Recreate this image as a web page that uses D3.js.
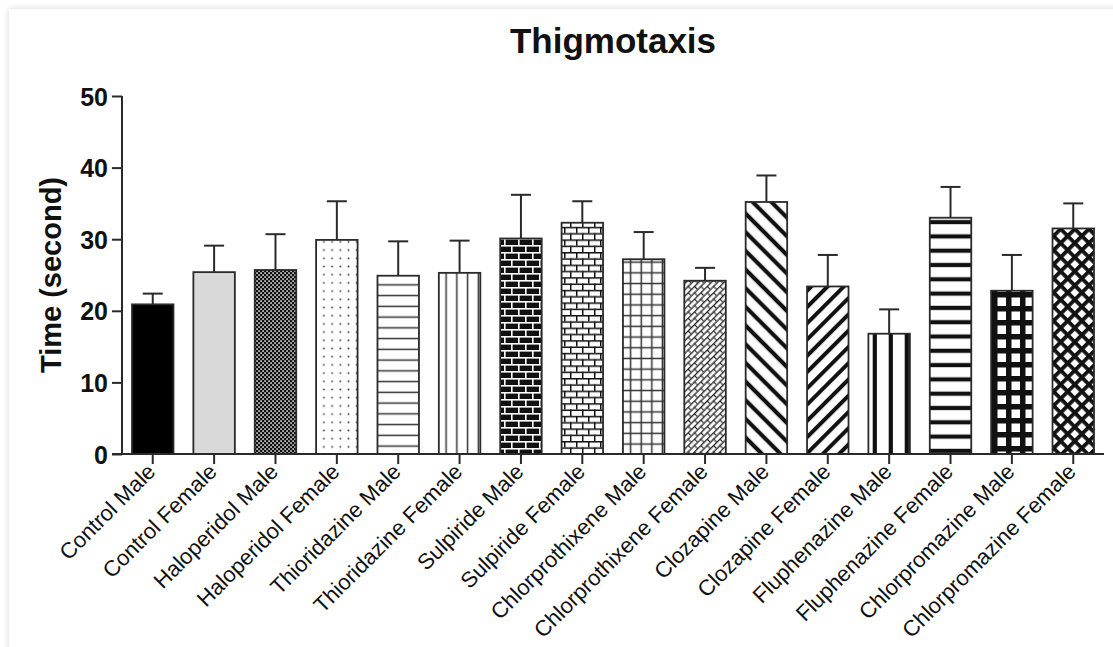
<!DOCTYPE html>
<html>
<head>
<meta charset="utf-8">
<script src="https://cdn.jsdelivr.net/npm/d3@7"></script>
<style>
  html, body { margin: 0; padding: 0; background: #fff; overflow: hidden; }
  body { width: 1113px; height: 647px; position: relative; }
  .card { position: absolute; left: 9px; top: 9px; width: 1300px; height: 900px;
          background: #fff; box-shadow: 0 0 7px rgba(0,0,0,0.16); }
  svg { position: absolute; left: 0; top: 0; }
  text { font-family: "Liberation Sans", Arial, Helvetica, sans-serif; fill: #111; }
</style>
</head>
<body>
<div class="card"></div>
<svg id="chart" width="1113" height="647"></svg>
<script>
// Thigmotaxis time per treatment group (mean and upper error, seconds)
const groups = [
  "Control Male", "Control Female", "Haloperidol Male", "Haloperidol Female",
  "Thioridazine Male", "Thioridazine Female", "Sulpiride Male", "Sulpiride Female",
  "Chlorprothixene Male", "Chlorprothixene Female", "Clozapine Male", "Clozapine Female",
  "Fluphenazine Male", "Fluphenazine Female", "Chlorpromazine Male", "Chlorpromazine Female"
];
const meanTime = [20.9, 25.4, 25.7, 29.9, 24.9, 25.3, 30.1, 32.3, 27.2, 24.2, 35.2, 23.4, 16.8, 33.0, 22.8, 31.5];
const errTime  = [1.5, 3.7, 5.0, 5.4, 4.8, 4.5, 6.1, 3.0, 3.8, 1.8, 3.7, 4.4, 3.4, 4.3, 5.0, 3.5];
const yTicks = [0, 10, 20, 30, 40, 50];

const chartTitle = "Thigmotaxis";
const yTitle = "Time (second)";

// Fill style for each group, in the same order as the groups
const fillKeys = [
  "solid", "grey", "checker", "dots", "hlines", "vlines", "brickDark", "brickLight",
  "grid", "diagBrick", "diagDown", "diagUp", "vthick", "hthick", "gridThick", "crossThick"
];

const svg = d3.select("#chart");
const ink = "#111";
const edge = "#2a2a2a";

const x = d3.scaleBand().domain(groups).range([122, 1104]).paddingInner(0.324).paddingOuter(0.163);
const y = d3.scaleLinear().domain([0, 50]).range([454, 96]);

// ---- hatch patterns ----
const defs = svg.append("defs");
function pat(id, w, h, transform) {
  const p = defs.append("pattern").attr("id", id).attr("patternUnits", "userSpaceOnUse")
    .attr("width", w).attr("height", h);
  if (transform) p.attr("patternTransform", transform);
  return p;
}
function rect(p, x0, y0, w, h, c) {
  p.append("rect").attr("x", x0).attr("y", y0).attr("width", w).attr("height", h).attr("fill", c);
}

// fine dark checker with white specks
let p = pat("checker", 4, 4);
rect(p, 0, 0, 4, 4, ink);
rect(p, 0.3, 0.3, 1.5, 1.5, "#fff");
rect(p, 2.3, 2.3, 1.5, 1.5, "#fff");

// sparse dots
p = pat("dots", 8.2, 8.2);
rect(p, 0, 0, 8.2, 8.2, "#fff");
rect(p, 3.3, 3.3, 1.6, 1.6, "#333");

// thin horizontal lines
p = pat("hlines", 20, 10.75);
rect(p, 0, 0, 20, 10.75, "#fff");
rect(p, 0, 4.6, 20, 1.5, "#333");

// thin vertical lines
p = pat("vlines", 10.75, 20);
rect(p, 0, 0, 10.75, 20, "#fff");
rect(p, 4.6, 0, 1.5, 20, "#333");

// dark bricks with white mortar
p = pat("brickDark", 14, 14);
rect(p, 0, 0, 14, 14, ink);
rect(p, 0, 0, 14, 1.6, "#fff");
rect(p, 0, 7, 14, 1.6, "#fff");
rect(p, 0, 0, 1.6, 7, "#fff");
rect(p, 7, 7, 1.6, 7, "#fff");

// white bricks with dark mortar
p = pat("brickLight", 12, 12.6);
rect(p, 0, 0, 12, 12.6, "#fff");
rect(p, 0, 0, 12, 1.5, ink);
rect(p, 0, 6.3, 12, 1.5, ink);
rect(p, 0, 0, 1.5, 6.3, ink);
rect(p, 6, 6.3, 1.5, 6.3, ink);

// thin square grid
p = pat("grid", 10.6, 10.7);
rect(p, 0, 0, 10.6, 10.7, "#fff");
rect(p, 0, 4.6, 10.6, 1.5, "#333");
rect(p, 4.5, 0, 1.5, 10.7, "#333");

// small diagonal bricks
p = pat("diagBrick", 9, 9, "rotate(-45)");
rect(p, 0, 0, 9, 9, "#fff");
rect(p, 0, 0, 9, 1.3, "#222");
rect(p, 0, 4.5, 9, 1.3, "#222");
rect(p, 0, 0, 1.1, 4.5, "#222");
rect(p, 4.5, 4.5, 1.1, 4.5, "#222");

// thick diagonal stripes, falling
p = pat("diagDown", 40, 13.2, "rotate(45)");
rect(p, 0, 0, 40, 13.2, "#fff");
rect(p, 0, 4.5, 40, 4.2, ink);

// thick diagonal stripes, rising
p = pat("diagUp", 40, 11.5, "rotate(-45)");
rect(p, 0, 0, 40, 11.5, "#fff");
rect(p, 0, 3.8, 40, 4.0, ink);

// thick vertical lines
p = pat("vthick", 16, 20);
rect(p, 0, 0, 16, 20, "#fff");
rect(p, 8.7, 0, 4.2, 20, ink);

// thick horizontal lines
p = pat("hthick", 20, 14.3);
rect(p, 0, 0, 20, 14.3, "#fff");
rect(p, 0, 5.5, 20, 4.2, ink);

// thick square grid
p = pat("gridThick", 14, 14);
rect(p, 0, 0, 14, 14, ink);
rect(p, 3.5, 3.5, 8.5, 8.5, "#fff");

// thick diagonal cross-hatch
p = pat("crossThick", 10, 10, "rotate(45)");
rect(p, 0, 0, 10, 10, "#fff");
rect(p, 0, 0, 10, 3.8, ink);
rect(p, 0, 0, 3.8, 10, ink);

const fillFor = k => k === "solid" ? "#000" : k === "grey" ? "#d9d9d9" : `url(#${k})`;

// ---- bars ----
const data = groups.map((g, i) => ({ g, m: meanTime[i], e: errTime[i], f: fillKeys[i] }));

// error bars (upper only)
const eb = svg.append("g").attr("stroke", edge).attr("stroke-width", 2).attr("fill", "none");
data.forEach(d => {
  const cx = x(d.g) + x.bandwidth() / 2;
  eb.append("line").attr("x1", cx).attr("x2", cx).attr("y1", y(d.m)).attr("y2", y(d.m + d.e));
  eb.append("line").attr("x1", cx - 10).attr("x2", cx + 10).attr("y1", y(d.m + d.e)).attr("y2", y(d.m + d.e));
});

svg.append("g").selectAll("rect").data(data).join("rect")
  .attr("x", d => x(d.g))
  .attr("y", d => y(d.m))
  .attr("width", x.bandwidth())
  .attr("height", d => y(0) - y(d.m))
  .attr("fill", d => fillFor(d.f))
  .attr("stroke", edge)
  .attr("stroke-width", 1.8);

// ---- axes ----
const yAxis = svg.append("g").attr("transform", "translate(122,0)")
  .call(d3.axisLeft(y).tickValues(yTicks).tickSize(10).tickPadding(4).tickFormat(d3.format("d")));
yAxis.select(".domain").attr("stroke", edge).attr("stroke-width", 2).attr("d", `M0,${y(50)}V${y(0)}`);
yAxis.selectAll(".tick line").attr("stroke", edge).attr("stroke-width", 2);
yAxis.selectAll(".tick text").attr("fill", ink).style("font-size", "25px").style("font-weight", "bold")
  .style("font-family", '"Liberation Sans", Arial, sans-serif').attr("dy", "0.36em");

const xAxis = svg.append("g").attr("transform", `translate(0,${y(0)})`)
  .call(d3.axisBottom(x).tickSize(10).tickSizeOuter(0).tickPadding(4));
xAxis.select(".domain").attr("stroke", edge).attr("stroke-width", 2).attr("d", `M112,0H1104`);
xAxis.selectAll(".tick line").attr("stroke", edge).attr("stroke-width", 2);
xAxis.selectAll(".tick text")
  .attr("fill", ink)
  .style("font-size", "22px")
  .style("font-family", '"Liberation Sans", Arial, sans-serif')
  .attr("text-anchor", "end")
  .attr("y", 0).attr("dy", 0)
  .attr("transform", "translate(4,19) rotate(-45)");

// ---- titles ----
svg.append("text").attr("x", 613).attr("y", 53).attr("text-anchor", "middle")
  .style("font-size", "35px").style("font-weight", "bold").text(chartTitle);

svg.append("text").attr("transform", `translate(61,${(y(0) + y(50)) / 2}) rotate(-90)`)
  .attr("text-anchor", "middle")
  .style("font-size", "29px").style("font-weight", "bold").text(yTitle);
</script>
</body>
</html>
